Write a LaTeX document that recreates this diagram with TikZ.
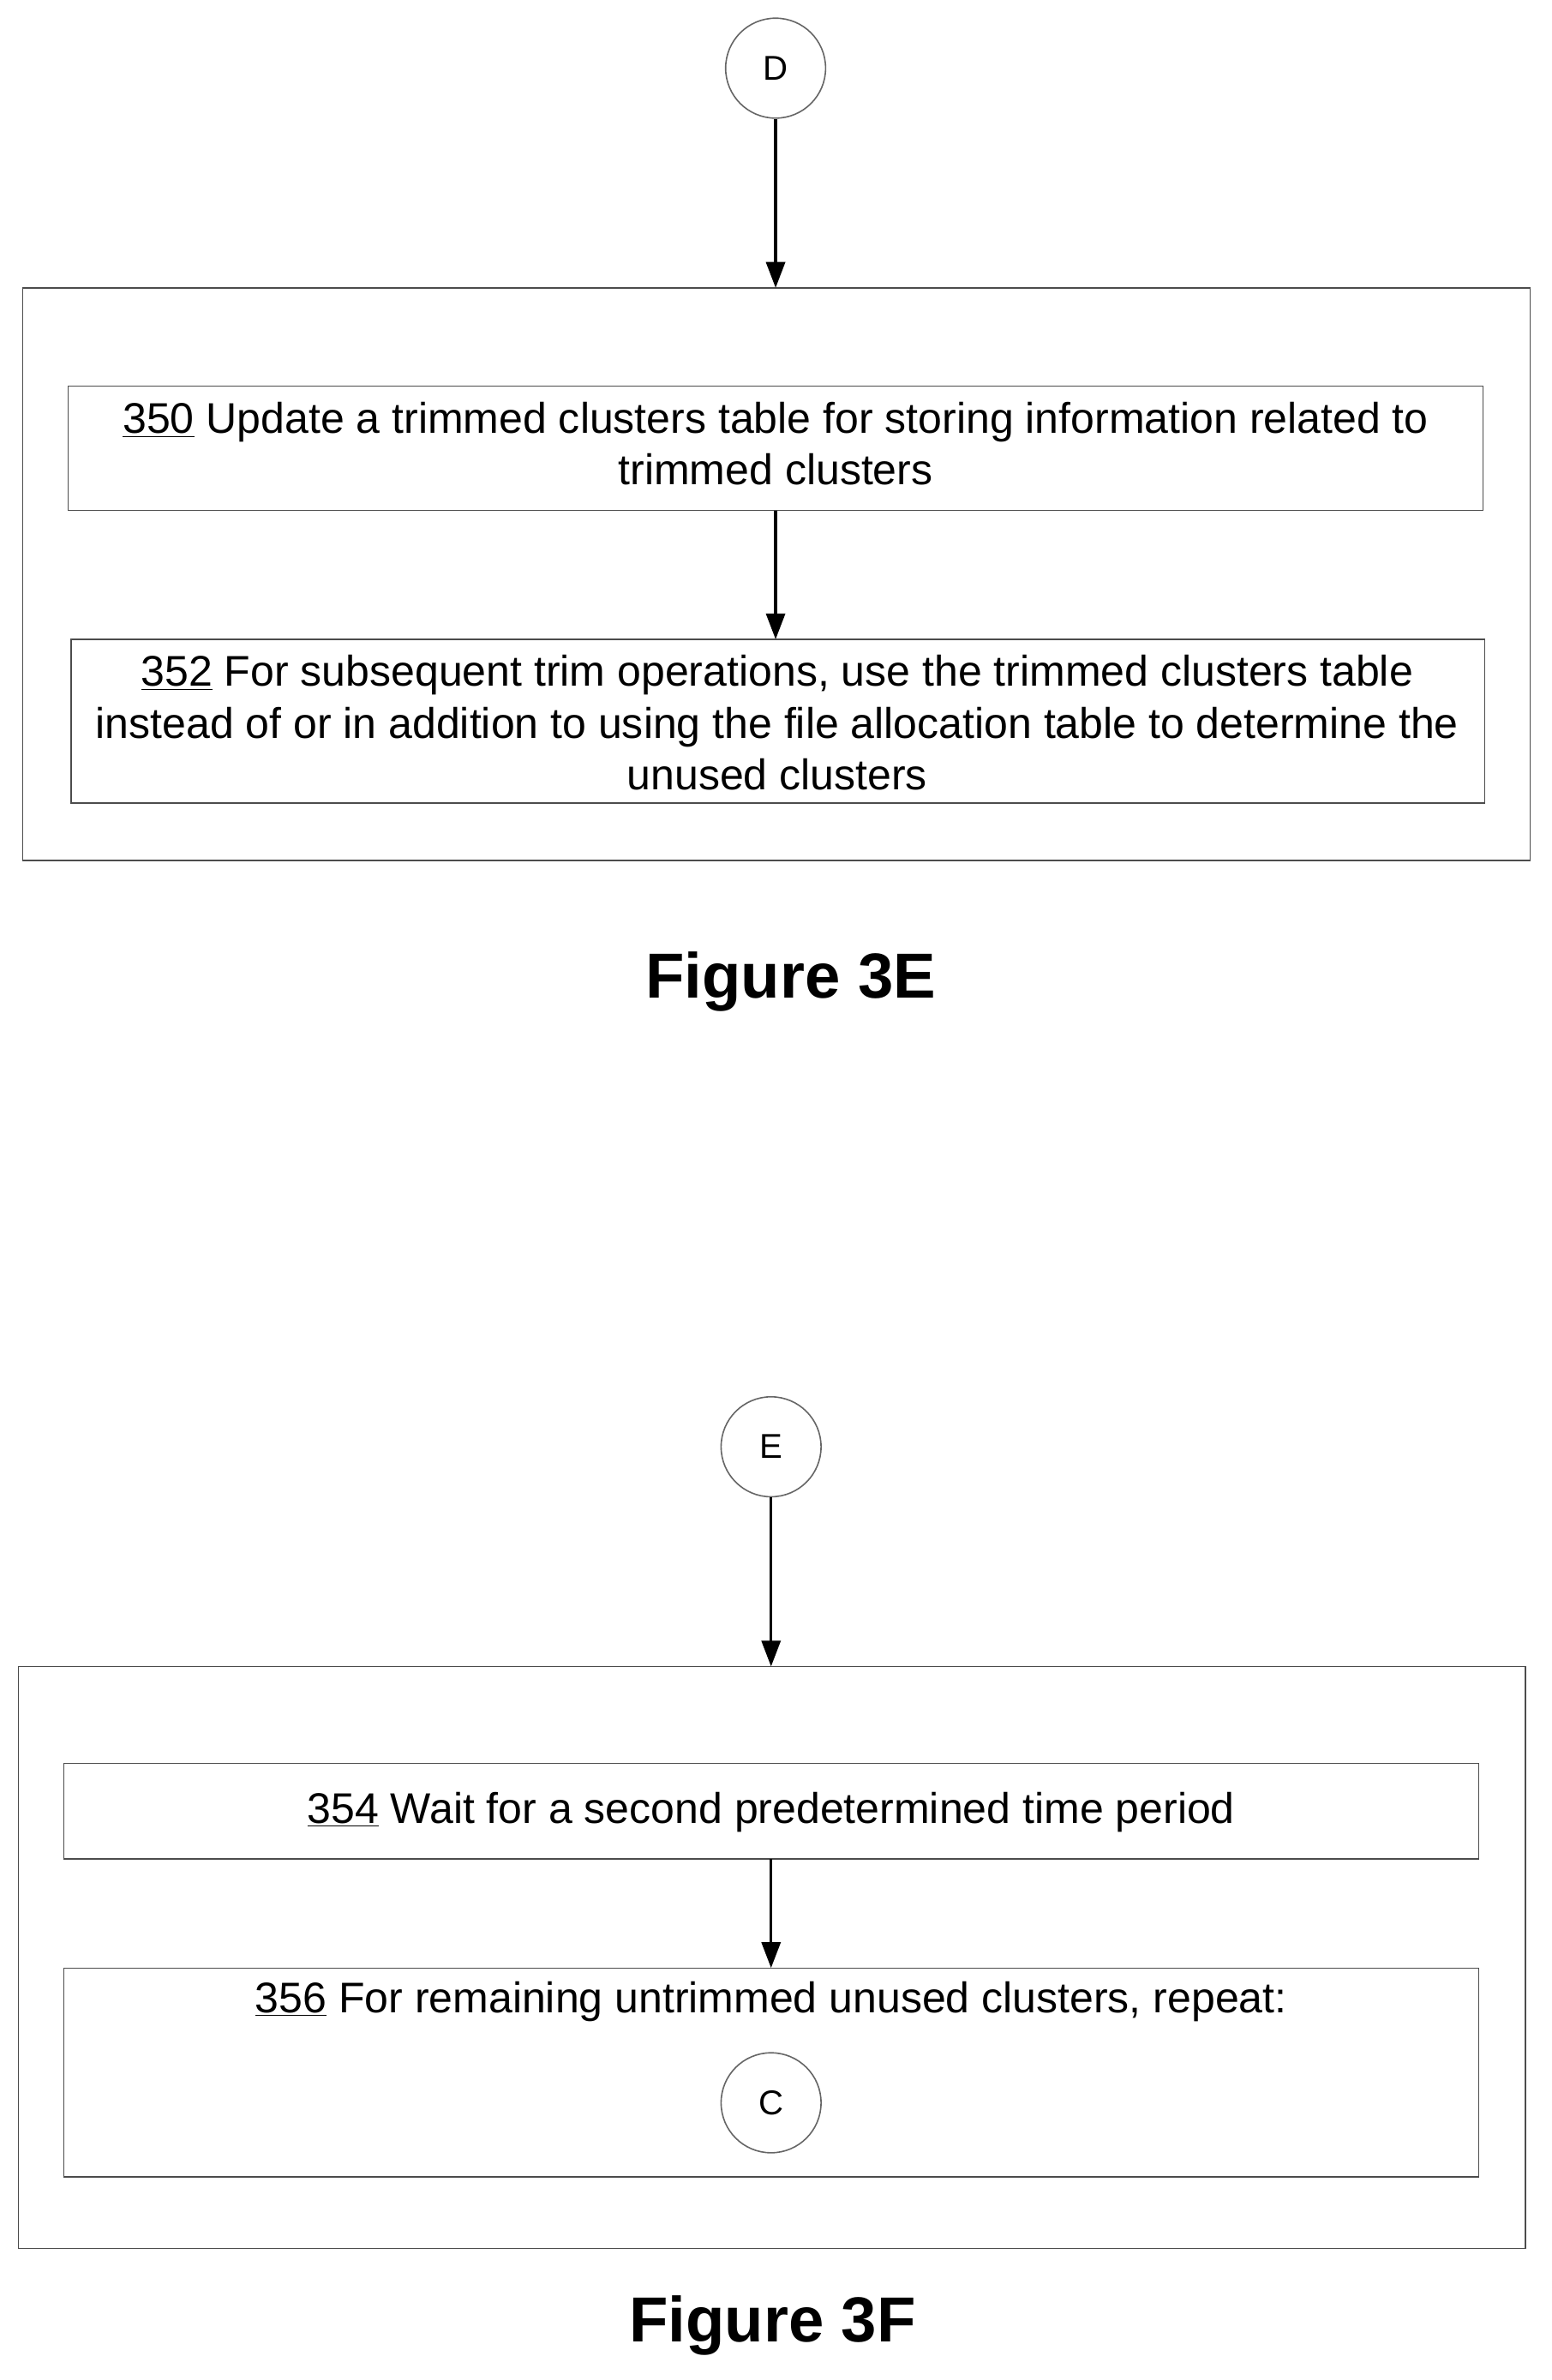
\documentclass[tikz,border=0pt]{standalone}
\usepackage{fontspec}
\setmainfont{Liberation Sans}
\usetikzlibrary{arrows.meta}
\begin{document}
\begin{tikzpicture}[x=0.88pt,y=-0.88pt,
  box/.style={draw=black!70,line width=0.7pt},
  conn/.style={draw=black!60,line width=0.8pt,circle,minimum size=58.08pt,inner sep=0pt,font=\fontsize{20}{22}\selectfont},
  arr/.style={-{Triangle[length=15pt,width=11pt]},line width=1.6pt},
  txt/.style={align=center,font=\fontsize{24.9}{30}\selectfont},
  fig/.style={font=\bfseries\fontsize{37}{42}\selectfont}]
\useasboundingbox (0,0) rectangle (1024,1571);
% Figure 3E
\node[conn] (D) at (512,45) {D};
\draw[box] (15,190) rectangle (1010,568);
\coordinate (o1) at (512,190);
\draw[box] (45,255) rectangle (979,337);
\coordinate (b350t) at (512,337);
\node[txt] (t350) at (512,293) {\underline{350} Update a trimmed clusters table for storing information related to\\trimmed clusters};
\draw[box] (47,422) rectangle (980,530);
\coordinate (b352) at (512,422);
\node[txt] (t352) at (513,477) {\underline{352} For subsequent trim operations, use the trimmed clusters table\\instead of or in addition to using the file allocation table to determine the\\unused clusters};
\draw[arr] (D) -- (o1);
\draw[arr] (b350t) -- (b352);
\node[fig] (f3e) at (522,648) {Figure 3E};
% Figure 3F
\node[conn] (E) at (509,955) {E};
\draw[box] (12,1100) rectangle (1007,1484);
\coordinate (o2) at (509,1100);
\draw[box] (42,1164) rectangle (976,1227);
\coordinate (b354b) at (509,1227);
\node[txt] (t354) at (509,1196) {\underline{354} Wait for a second predetermined time period};
\draw[box] (42,1299) rectangle (976,1437);
\coordinate (b356t) at (509,1299);
\node[txt] (t356) at (509,1321) {\underline{356} For remaining untrimmed unused clusters, repeat:};
\node[conn] (C) at (509,1388) {C};
\draw[arr] (E) -- (o2);
\draw[arr] (b354b) -- (b356t);
\node[fig] (f3f) at (510,1535) {Figure 3F};
\end{tikzpicture}
\end{document}
